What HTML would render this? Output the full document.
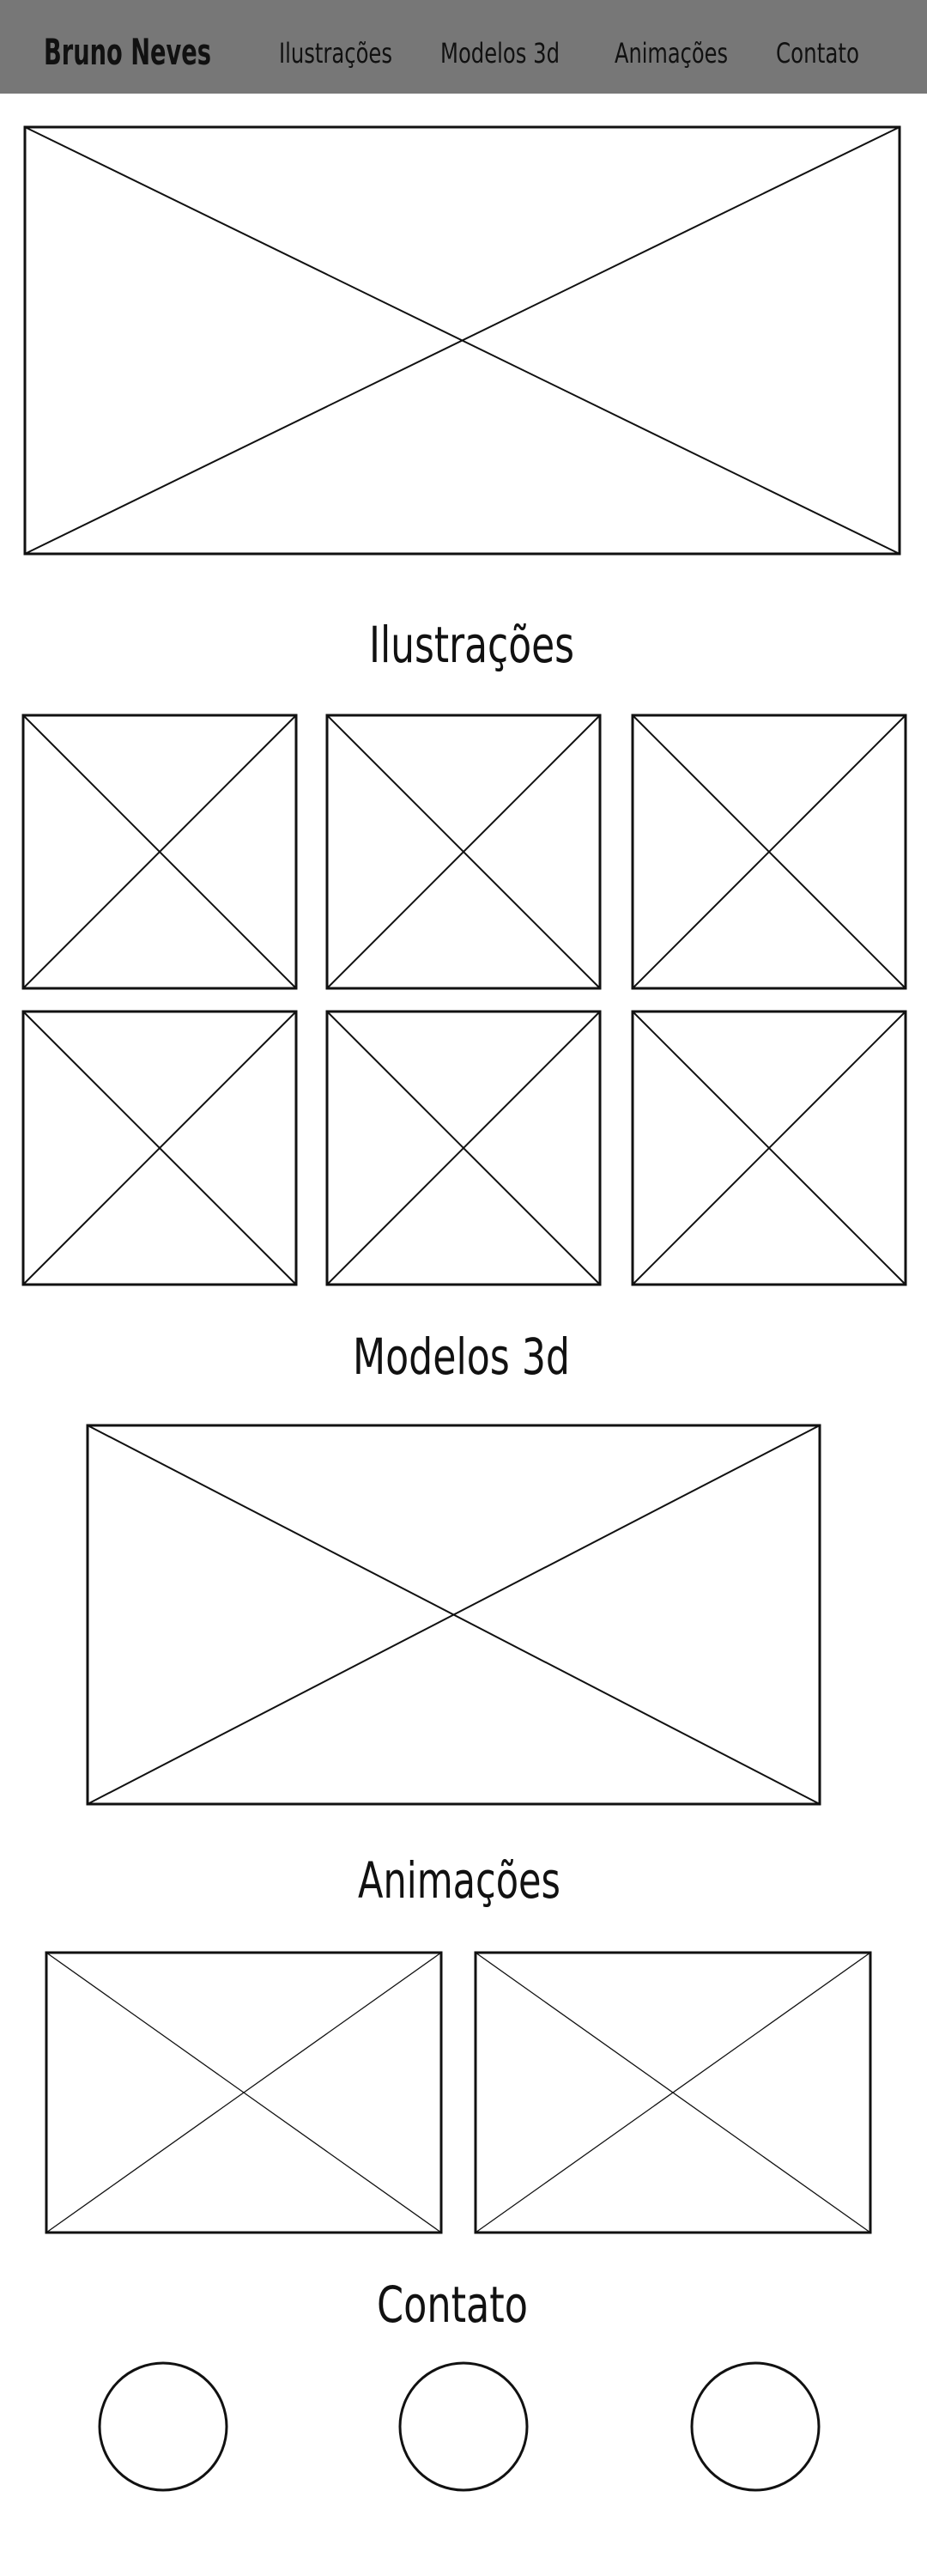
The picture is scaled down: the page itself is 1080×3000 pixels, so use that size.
<!DOCTYPE html>
<html><head><meta charset="utf-8"><style>
html,body{margin:0;padding:0;background:#fff;width:1080px;height:3000px;overflow:hidden}
svg text{font-family:"Liberation Sans Narrow","DejaVu Sans Condensed","Liberation Sans",sans-serif;fill:#111}
</style></head><body>
<svg width="1080" height="3000" viewBox="0 0 1080 3000">
<rect x="0" y="0" width="1080" height="109" fill="#777"/>
<text x="51" y="75" font-size="42" font-weight="bold" textLength="195" lengthAdjust="spacingAndGlyphs">Bruno Neves</text>
<text x="325" y="73" font-size="32" textLength="132" lengthAdjust="spacingAndGlyphs">Ilustrações</text>
<text x="513" y="73" font-size="32" textLength="139" lengthAdjust="spacingAndGlyphs">Modelos 3d</text>
<text x="716" y="73" font-size="32" textLength="132" lengthAdjust="spacingAndGlyphs">Animações</text>
<text x="904" y="73" font-size="32" textLength="97" lengthAdjust="spacingAndGlyphs">Contato</text>
<g id="boxes" stroke="#111" fill="none"></g>
<text x="430" y="771" font-size="58" textLength="239" lengthAdjust="spacingAndGlyphs">Ilustrações</text>
<text x="411" y="1600" font-size="58" textLength="253" lengthAdjust="spacingAndGlyphs">Modelos 3d</text>
<text x="417" y="2210" font-size="58" textLength="236" lengthAdjust="spacingAndGlyphs">Animações</text>
<text x="439" y="2704" font-size="58" textLength="176" lengthAdjust="spacingAndGlyphs">Contato</text>
<circle cx="190" cy="2826" r="74" stroke="#111" stroke-width="3" fill="none"/>
<circle cx="540" cy="2826" r="74" stroke="#111" stroke-width="3" fill="none"/>
<circle cx="880" cy="2826" r="74" stroke="#111" stroke-width="3" fill="none"/>
</svg>
<script>
const g=document.getElementById('boxes');
const NS='http://www.w3.org/2000/svg';
function box(x1,y1,x2,y2,name,dw){
  const grp=document.createElementNS(NS,'g');
  
  
  const r=document.createElementNS(NS,'rect');
  r.setAttribute('x',x1);r.setAttribute('y',y1);r.setAttribute('width',x2-x1);r.setAttribute('height',y2-y1);
  r.setAttribute('stroke-width','3');
  grp.appendChild(r);
  [[x1,y1,x2,y2],[x1,y2,x2,y1]].forEach(function(c){
    const l=document.createElementNS(NS,'line');
    l.setAttribute('x1',c[0]);l.setAttribute('y1',c[1]);l.setAttribute('x2',c[2]);l.setAttribute('y2',c[3]);
    l.setAttribute('stroke-width',dw);
    grp.appendChild(l);
  });
  g.appendChild(grp);
}
box(29,148,1048,645,'hero-image-placeholder',2);
const cols=[[27,345],[381,699],[737,1055]];
const rows=[[833,1151],[1178,1496]];
rows.forEach(function(r,i){cols.forEach(function(c,j){box(c[0],r[0],c[1],r[1],'illustration-thumb-'+(i*3+j+1),2);});});
box(102,1660,955,2101,'model-3d-placeholder',2);
box(54,2274,514,2600,'animation-thumb-1',1.3);
box(554,2274,1014,2600,'animation-thumb-2',1.3);
</script>
</body></html>
